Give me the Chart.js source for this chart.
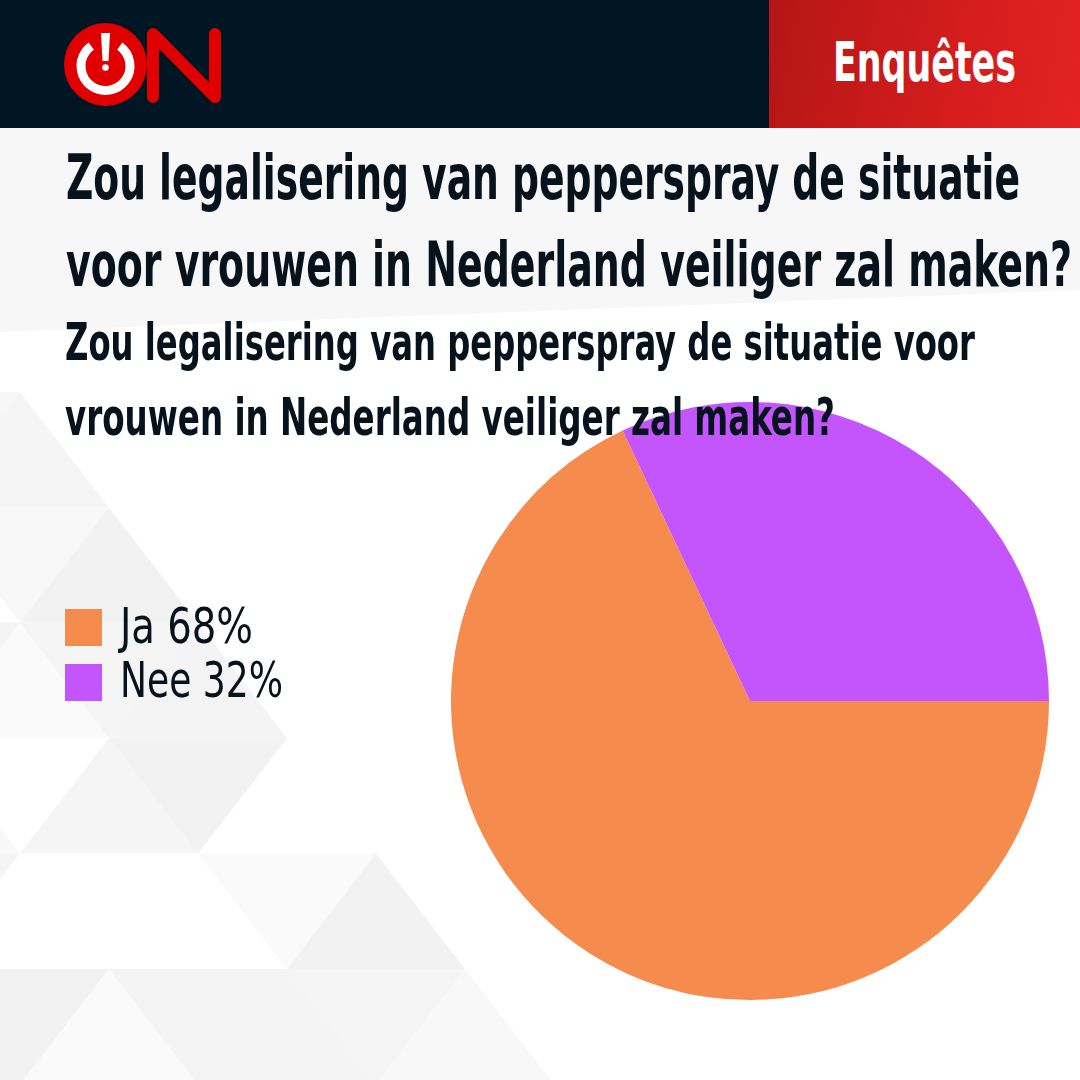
<!DOCTYPE html>
<html>
<head>
<meta charset="utf-8">
<script src="https://cdn.jsdelivr.net/npm/chart.js@4"></script>
<style>
  html, body { margin: 0; padding: 0; }
  body { width: 1080px; height: 1080px; position: relative; overflow: hidden; background: #fff;
         font-family: "Liberation Sans Narrow", "DejaVu Sans Condensed", "Roboto", sans-serif; }
  #bg { position: absolute; left: 0; top: 0; }
  .txt { position: absolute; white-space: nowrap; line-height: 1; color: #06131d; transform-origin: 0 0; }
  .title { font-size: 62px; font-weight: bold; left: 66px; }
  .sub { font-size: 52px; font-weight: bold; left: 65px; }
  #badge { position: absolute; left: 769px; top: 0; width: 311px; height: 128px;
           background: linear-gradient(100deg, #b51616 0%, #d21c1c 55%, #e42222 100%); }
  #enq { color: #fff; font-size: 55px; font-weight: bold; left: 833px; top: 35px; }
  #chartBox { position: absolute; left: 441px; top: 392px; width: 618px; height: 618px; }
  .leg { position: absolute; left: 65px; }
  .leg .sw { position: absolute; left: 0; width: 37px; height: 37px; }
  .leg .txt { font-size: 49px; font-weight: normal; left: 55px; }
</style>
</head>
<body>
<canvas id="bg" width="1080" height="1080"></canvas>
<div id="badge"></div>
<div class="txt" id="enq" data-w="183">Enquêtes</div>

<div class="txt title" style="top:147px" data-w="954">Zou legalisering van pepperspray de situatie</div>
<div class="txt title" style="top:234px" data-w="1006">voor vrouwen in Nederland veiliger zal maken?</div>

<div id="chartBox"><canvas id="pie"></canvas></div>

<div class="txt sub" style="top:316px" data-w="910">Zou legalisering van pepperspray de situatie voor</div>
<div class="txt sub" style="top:391px" data-w="770">vrouwen in Nederland veiliger zal maken?</div>

<div id="legend"></div>

<script>
// poll results
const labels = ["Ja", "Nee"];
const values = [68, 32];
const colors = ["#f58b4c", "#c455fd"];

// background: grey strip under the header and a faint triangle pattern
const bg = document.getElementById("bg").getContext("2d");
bg.fillStyle = "#ffffff";
bg.fillRect(0, 0, 1080, 1080);
bg.fillStyle = "#f7f7f7";
bg.beginPath();
bg.moveTo(0, 128); bg.lineTo(1080, 128); bg.lineTo(1080, 290); bg.lineTo(0, 332);
bg.closePath(); bg.fill();

const shades = ["#ffffff", "#fafafa", "#f5f5f5", "#f2f2f2", "#f8f8f8", "#ffffff", "#f4f4f4"];
const rowH = 115.4, halfW = 89;
const rowMaxX = [110, 290, 290, 290, 470, 560];   // how far right each row of triangles reaches
for (let r = 0; r < rowMaxX.length; r++) {
  const y0 = 392 + r * rowH, y1 = y0 + rowH;
  const off = (r % 2 === 1) ? 20 : 109;
  for (let c = -2; c < 8; c++) {
    const bx = off + c * 2 * halfW;
    // upward triangle (base at bottom)
    if (bx + 2 * halfW <= rowMaxX[r] + 2) {
      bg.fillStyle = shades[(r * 3 + c * 5 + 7) % shades.length];
      bg.beginPath(); bg.moveTo(bx, y1); bg.lineTo(bx + 2 * halfW, y1); bg.lineTo(bx + halfW, y0); bg.closePath(); bg.fill();
    }
    // downward triangle
    if (bx + 3 * halfW <= rowMaxX[r] + 2) {
      bg.fillStyle = shades[(r * 5 + c * 3 + 2) % shades.length];
      bg.beginPath(); bg.moveTo(bx + halfW, y0); bg.lineTo(bx + 3 * halfW, y0); bg.lineTo(bx + 2 * halfW, y1); bg.closePath(); bg.fill();
    }
  }
}

// dark header
bg.fillStyle = "#011623";
bg.fillRect(0, 0, 1080, 128);

// logo: power ring + N
bg.fillStyle = "#e00000";
bg.beginPath(); bg.arc(105.5, 64.5, 41.5, 0, Math.PI * 2); bg.fill();
bg.strokeStyle = "#ffffff";
bg.lineWidth = 9;
bg.beginPath(); bg.arc(105.5, 66, 24.5, -Math.PI / 2 + 0.62, -Math.PI / 2 - 0.62 + Math.PI * 2); bg.stroke();
bg.fillStyle = "#ffffff";
bg.beginPath();
bg.moveTo(101, 33); bg.lineTo(110, 33); bg.lineTo(108.5, 61); bg.lineTo(102.5, 61); bg.closePath(); bg.fill();
bg.beginPath(); bg.arc(105.5, 67.5, 3.3, 0, Math.PI * 2); bg.fill();
bg.strokeStyle = "#e00000";
bg.lineWidth = 12;
bg.lineCap = "round";
bg.lineJoin = "round";
bg.beginPath();
bg.moveTo(153, 97); bg.lineTo(153, 34); bg.lineTo(215, 97); bg.lineTo(215, 34);
bg.stroke();

// legend
const legend = document.getElementById("legend");
labels.forEach((l, i) => {
  const row = document.createElement("div");
  row.className = "leg";
  row.style.top = (609 + i * 54.5) + "px";
  row.innerHTML = `<div class="sw" style="background:${colors[i]}"></div>` +
    `<div class="txt" style="top:-7.5px" data-w="${[133, 163][i]}">${l} ${values[i]}%</div>`;
  legend.appendChild(row);
});

// squeeze text lines to the reference widths
document.querySelectorAll("[data-w]").forEach(el => {
  const w = el.getBoundingClientRect().width;
  el.style.transform = `scaleX(${(+el.dataset.w / w).toFixed(4)})`;
});

new Chart(document.getElementById("pie"), {
  type: "pie",
  data: {
    labels: labels,
    datasets: [{
      data: values,
      backgroundColor: colors,
      borderWidth: 0
    }]
  },
  options: {
    responsive: true,
    maintainAspectRatio: false,
    animation: false,
    rotation: 90,
    layout: { padding: 10 },
    plugins: {
      legend: { display: false },
      tooltip: { enabled: false }
    }
  }
});
</script>
</body>
</html>
